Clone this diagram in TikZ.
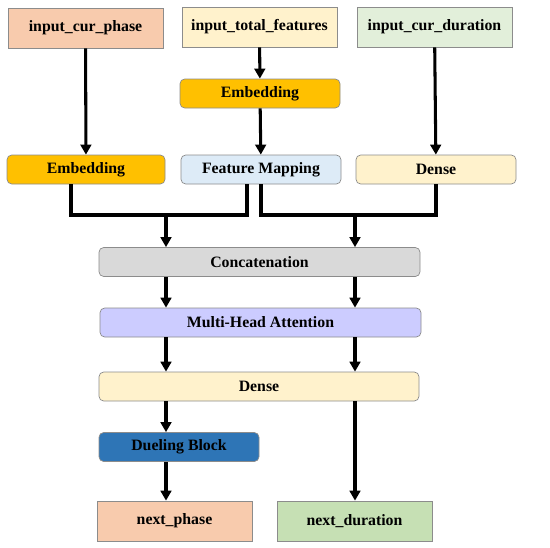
\documentclass[tikz,border=0pt]{standalone}
\usepackage{fontspec}
\setmainfont{Liberation Serif}
\usepackage{xcolor}
\usepackage{tikz}
\usetikzlibrary{arrows.meta}
\definecolor{peach}{HTML}{F8CBAD}
\definecolor{cream}{HTML}{FFF2CC}
\definecolor{mint}{HTML}{E2EFDA}
\definecolor{leaf}{HTML}{C6E0B4}
\definecolor{gold}{HTML}{FFC000}
\definecolor{sky}{HTML}{DDEBF7}
\definecolor{silver}{HTML}{D9D9D9}
\definecolor{lavender}{HTML}{CCCCFF}
\definecolor{steel}{HTML}{2E75B6}
\definecolor{rim}{HTML}{8C8C8C}
\tikzset{
  io/.style={draw=rim, line width=0.6pt, minimum height=12mm, minimum width=46.5mm,
             align=center, font=\fontsize{13.5}{16}\selectfont\bfseries},
  layer/.style={draw=rim, line width=0.6pt, rounded corners=4pt, minimum height=8.7mm,
                minimum width=48mm, align=center, font=\fontsize{13.5}{16}\selectfont\bfseries},
  wire/.style={line width=2.6pt},
  flow/.style={wire, -{Triangle[length=3mm, width=3.2mm]}},
}

\begin{document}
\begin{tikzpicture}
  \useasboundingbox (0,0) rectangle (16.5,-16.41);

  % Inputs
  \node[io, fill=peach] (icp) at (2.565,-0.84) {input\_cur\_phase};
  \node[io, fill=cream] (itf) at (7.785,-0.81) {input\_total\_features};
  \node[io, fill=mint]  (icd) at (13.035,-0.81) {input\_cur\_duration};

  % Encoders
  \node[layer, fill=gold]  (embt) at (7.8,-2.805)  {Embedding};
  \node[layer, fill=gold, minimum width=47.4mm] (embp) at (2.58,-5.085) {Embedding};
  \node[layer, fill=sky]   (fmap) at (7.83,-5.085) {Feature Mapping};
  \node[layer, fill=cream] (dnsd) at (13.08,-5.085) {Dense};

  % Shared trunk
  \node[layer, fill=silver, minimum width=96.3mm]   (concat) at (7.785,-7.86)  {Concatenation};
  \node[layer, fill=lavender, minimum width=96.3mm] (mha)    at (7.815,-9.675) {Multi-Head Attention};
  \node[layer, fill=cream, minimum width=96mm]      (dense)  at (7.77,-11.595) {Dense};

  % Heads
  \node[layer, fill=steel] (duel) at (5.37,-13.41) {Dueling Block};
  \node[io, fill=peach] (nph)  at (5.235,-15.63) {next\_phase};
  \node[io, fill=leaf]  (ndur) at (10.635,-15.63) {next\_duration};

  % Input arrows
  \draw[flow] (icp) -- (embp);
  \draw[flow] (itf) -- (embt);
  \draw[flow] (embt) -- (fmap);
  \draw[flow] (icd) -- (dnsd);

  % Merge into concatenation
  \coordinate (jl) at (4.98,-6.45);
  \coordinate (jr) at (10.65,-6.45);
  \draw[wire] ([xshift=-4.5mm]embp.south) |- (jl) -| ([xshift=-4.2mm]fmap.south);
  \draw[wire] (fmap.south) |- (jr) -| (dnsd.south);
  \draw[flow] (jl) -- (concat.north -| jl);
  \draw[flow] (jr) -- (concat.north -| jr);

  % Trunk arrows
  \draw[flow] (concat.south -| jl) -- (mha.north -| jl);
  \draw[flow] (concat.south -| jr) -- (mha.north -| jr);
  \draw[flow] (mha.south -| jl) -- (dense.north -| jl);
  \draw[flow] (mha.south -| jr) -- (dense.north -| jr);

  % Outputs
  \draw[flow] (dense.south -| jl) -- (duel.north -| jl);
  \draw[flow] (duel.south -| jl) -- (nph.north -| jl);
  \draw[flow] (dense.south -| jr) -- (ndur.north -| jr);

\end{tikzpicture}
\end{document}
